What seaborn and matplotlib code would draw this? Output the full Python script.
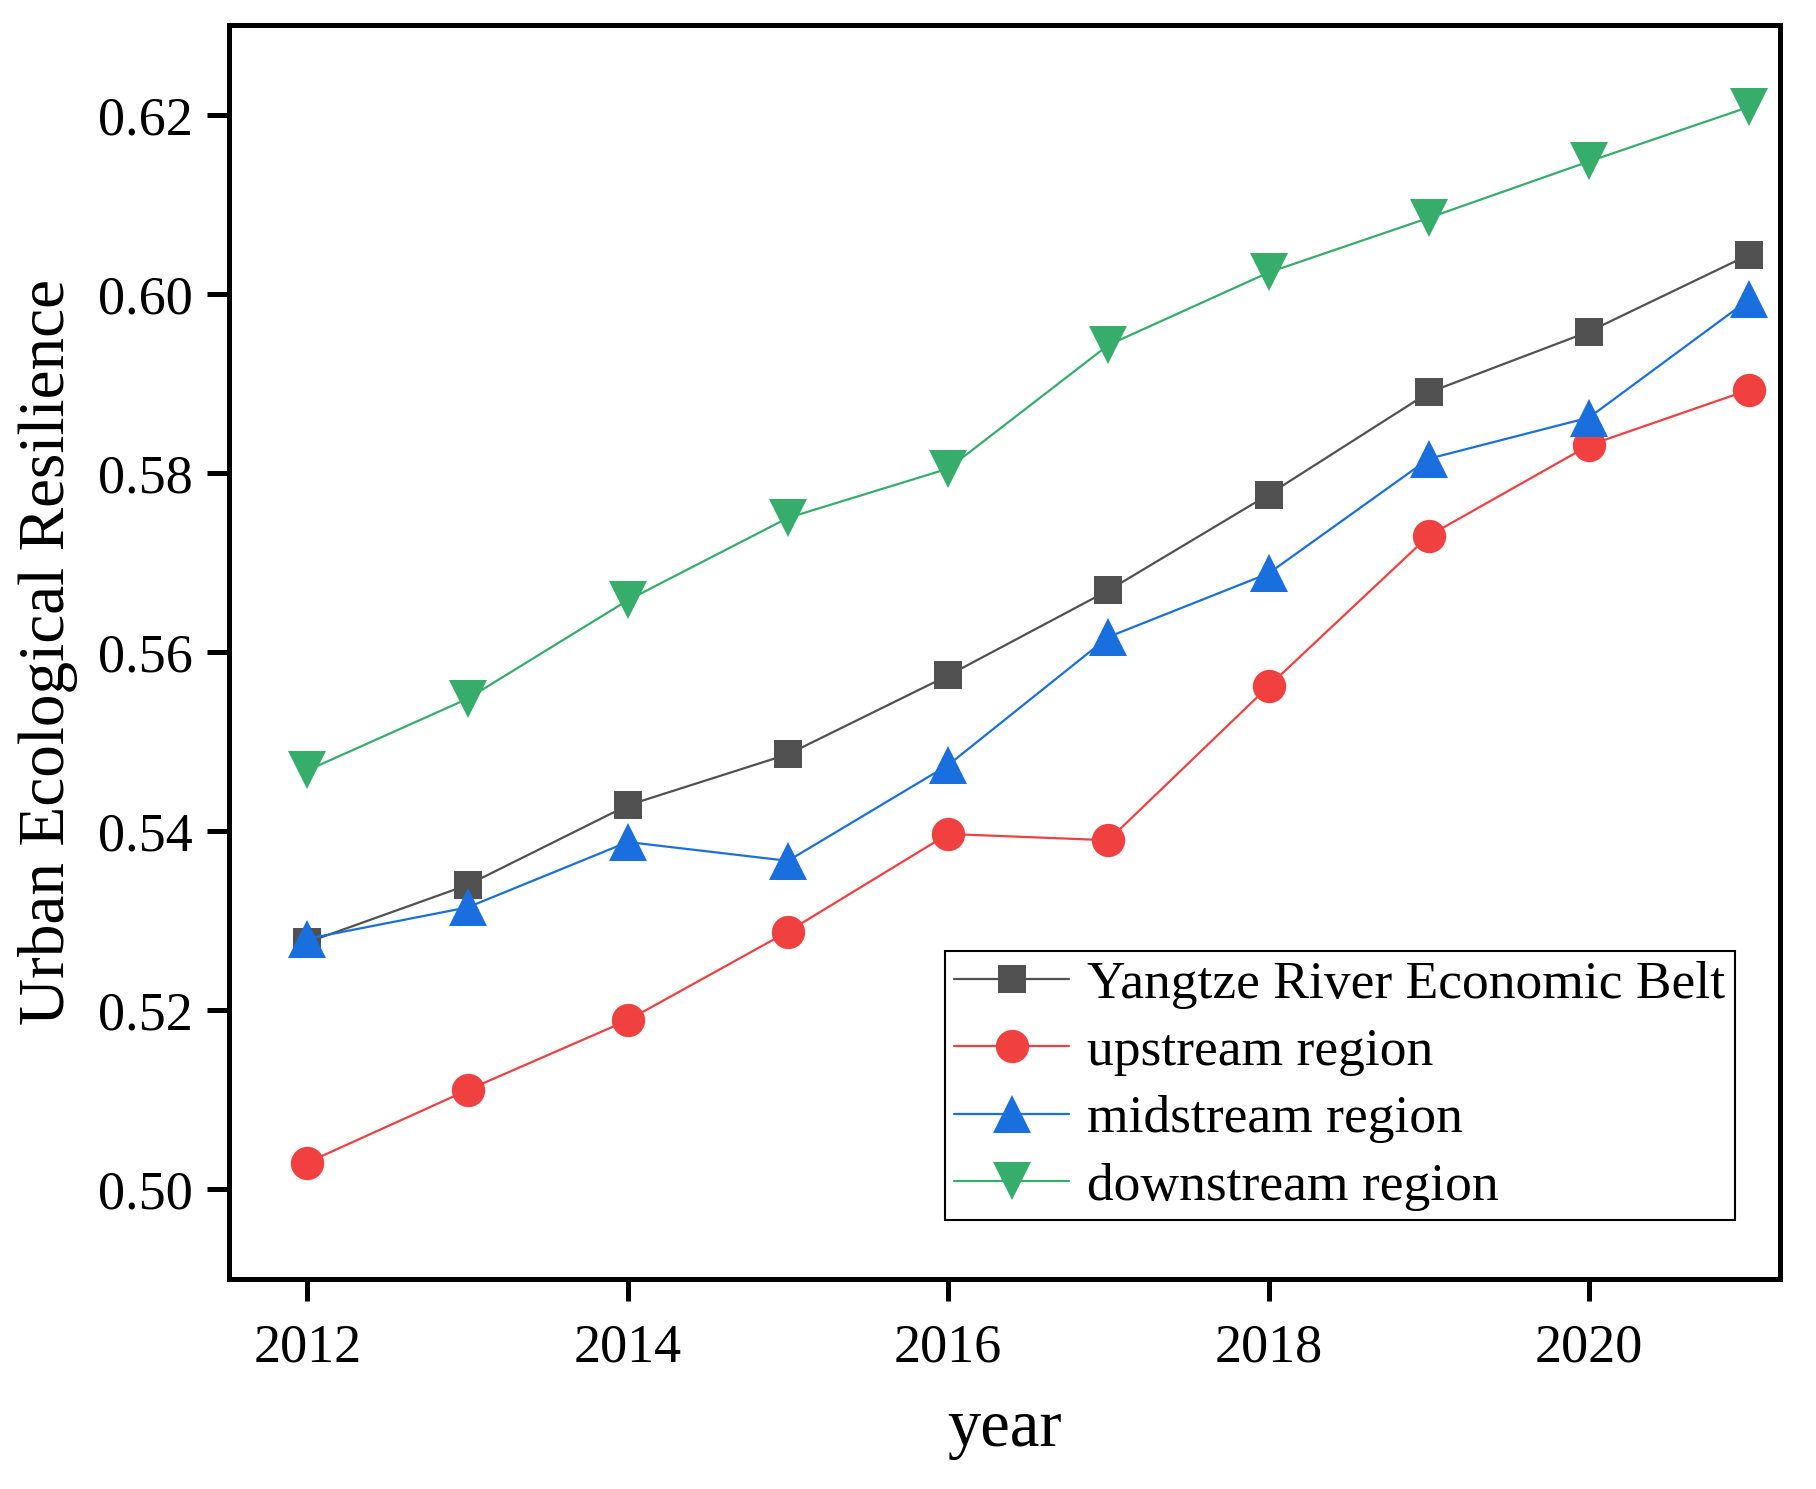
import pandas as pd
import matplotlib
matplotlib.use('Agg')
import matplotlib.pyplot as plt
import seaborn as sns

# ── Data ──────────────────────────────────────────────
years = [2012, 2013, 2014, 2015, 2016, 2017, 2018, 2019, 2020, 2021]
belt = [0.5276, 0.5340, 0.5429, 0.5486, 0.5574, 0.5669, 0.5776, 0.5890, 0.5958, 0.6044]
upstream = [0.5030, 0.5111, 0.5189, 0.5288, 0.5397, 0.5390, 0.5562, 0.5730, 0.5831, 0.5893]
midstream = [0.5280, 0.5315, 0.5388, 0.5367, 0.5474, 0.5617, 0.5688, 0.5816, 0.5862, 0.5994]
downstream = [0.5468, 0.5548, 0.5658, 0.5750, 0.5805, 0.5943, 0.6024, 0.6085, 0.6148, 0.6209]

labels = ['Yangtze River Economic Belt', 'upstream region',
          'midstream region', 'downstream region']
colors = ['#515151', '#F14040', '#1A6FDF', '#37AD6B']
markers = ['s', 'o', '^', 'v']
msizes = [20, 24, 27, 27]

df = pd.DataFrame({'year': years * 4,
                   'value': belt + upstream + midstream + downstream,
                   'region': [l for l in labels for _ in years]})

sns.set_style('ticks')
plt.rcParams['font.family'] = ['Liberation Serif', 'DejaVu Serif']
plt.rcParams['text.color'] = 'black'
plt.rcParams['axes.labelcolor'] = 'black'

fig, ax = plt.subplots(figsize=(18.16, 14.89), dpi=100)
fig.subplots_adjust(left=0.126, right=0.980, top=0.983, bottom=0.141)

for lab, c, m, ms in zip(labels, colors, markers, msizes):
    sns.lineplot(data=df[df['region'] == lab], x='year', y='value', ax=ax,
                 color=c, marker=m, markersize=ms, markeredgewidth=0,
                 linewidth=1.6, label=lab)

ax.set_xlim(2011.51, 2021.19)
ax.set_ylim(0.49, 0.63)
ax.set_xticks([2012, 2014, 2016, 2018, 2020])
ax.set_yticks([0.50, 0.52, 0.54, 0.56, 0.58, 0.60, 0.62])
ax.set_yticklabels([f'{v:.2f}' for v in ax.get_yticks()])

for s in ax.spines.values():
    s.set_visible(True)
    s.set_linewidth(3.6)
    s.set_color('black')
ax.tick_params(axis='both', direction='out', length=16, width=3.6,
               labelsize=39, colors='black', top=False, right=False)
ax.tick_params(axis='x', pad=16)
ax.tick_params(axis='y', pad=10)

ax.set_xlabel('year', fontsize=48, labelpad=18)
ax.set_ylabel('Urban Ecological Resilience', fontsize=47, labelpad=14)

leg = ax.legend(loc='lower right', bbox_to_anchor=(0.971, 0.047), fontsize=38.5,
                frameon=True, fancybox=False, framealpha=1, edgecolor='black',
                handlelength=2.15, handletextpad=0.33, labelspacing=0.35,
                borderpad=0.18, borderaxespad=0)
leg.get_frame().set_linewidth(1.5)

plt.savefig('out.png', dpi=100)
